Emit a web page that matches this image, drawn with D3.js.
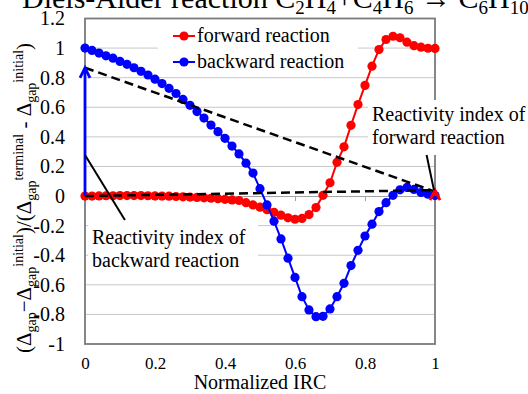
<!DOCTYPE html>
<meta charset="utf-8">
<style>
body { margin: 0; background: #fff; }
</style>
<body>
<script src="https://cdn.jsdelivr.net/npm/d3@7"></script>
<script>

// normalized IRC positions
var irc = [0.00,0.02,0.04,0.06,0.08,0.10,0.12,0.14,0.16,0.18,0.20,0.22,0.24,0.26,0.28,0.30,0.32,0.34,0.36,0.38,
           0.40,0.42,0.44,0.46,0.48,0.50,0.52,0.54,0.56,0.58,0.60,0.62,0.64,0.66,0.68,0.70,0.72,0.74,0.76,0.78,
           0.80,0.82,0.84,0.86,0.88,0.90,0.92,0.94,0.96,0.98,1.00];

// forward reaction
var forward = [0.000,0.000,0.001,0.002,0.002,0.003,0.003,0.003,0.003,0.002,0.001,0.000,-0.001,-0.003,-0.005,-0.007,-0.009,-0.012,-0.015,-0.018,
               -0.022,-0.026,-0.030,-0.045,-0.060,-0.075,-0.092,-0.110,-0.129,-0.147,-0.157,-0.151,-0.125,-0.078,0.005,0.090,0.228,0.333,0.478,0.618,
               0.748,0.878,0.990,1.058,1.080,1.070,1.040,1.016,1.006,0.999,0.998];

// backward reaction
var backward = [1.000,0.984,0.966,0.948,0.932,0.910,0.890,0.867,0.843,0.818,0.790,0.760,0.728,0.693,0.653,0.613,0.571,0.527,0.480,0.435,
                0.390,0.338,0.285,0.222,0.155,0.050,-0.060,-0.170,-0.290,-0.420,-0.550,-0.680,-0.770,-0.815,-0.813,-0.763,-0.680,-0.590,-0.470,-0.367,
                -0.270,-0.190,-0.105,-0.045,0.005,0.042,0.058,0.045,0.024,0.012,0.003];

var xTicks = [0, 0.2, 0.4, 0.6, 0.8, 1];
var yTicks = [-1, -0.8, -0.6, -0.4, -0.2, 0, 0.2, 0.4, 0.6, 0.8, 1, 1.2];

// reactivity index lines: [x, y] start and end
var backwardIndex = [[0, 0.867], [1, 0.03]];
var forwardIndex = [[0, 0], [1, 0.04]];

var width = 528, height = 394;
var font = "Liberation Serif";

var x = d3.scaleLinear().domain([0, 1]).range([85, 435]);
var y = d3.scaleLinear().domain([-1, 1.2]).range([344, 18.5]);

var svg = d3.select("body").append("svg")
    .attr("width", width)
    .attr("height", height);

// title (cut off at the top in the original)
var title = svg.append("text")
    .attr("x", 22)
    .attr("y", 8)
    .style("font-size", "30px")
    .attr("fill", "#000");
title.append("tspan").text("Diels-Alder reaction C");
title.append("tspan").attr("dy", 6).style("font-size", "19px").text("2");
title.append("tspan").attr("dy", -6).text("H");
title.append("tspan").attr("dy", 6).style("font-size", "19px").text("4");
title.append("tspan").attr("dy", -6).text("+C");
title.append("tspan").attr("dy", 6).style("font-size", "19px").text("4");
title.append("tspan").attr("dy", -6).text("H");
title.append("tspan").attr("dy", 6).style("font-size", "19px").text("6");
title.append("tspan").attr("dy", -6).text(" \u2192 C");
title.append("tspan").attr("dy", 6).style("font-size", "19px").text("6");
title.append("tspan").attr("dy", -6).text("H");
title.append("tspan").attr("dy", 6).style("font-size", "19px").text("10");

// horizontal gridlines
svg.append("g")
  .selectAll("line")
  .data(yTicks.filter(function(d) { return d > -1 && d < 1.2 && d !== 0; }))
  .enter().append("line")
    .attr("x1", x(0)).attr("x2", x(1))
    .attr("y1", function(d) { return y(d); })
    .attr("y2", function(d) { return y(d); })
    .attr("stroke", "#c8c8c8")
    .attr("stroke-width", 1);

// y axis labels
svg.append("g")
    .attr("transform", "translate(" + (x(0) - 17) + ",0)")
    .call(d3.axisLeft(y).tickValues(yTicks).tickSize(0)
      .tickFormat(function(d) { return String(+d.toFixed(1)); }))
    .call(function(g) { g.select(".domain").remove(); })
    .selectAll("text")
      .style("font-size", "20px")
      .attr("fill", "#000");

// x axis labels at the bottom
svg.append("g")
    .attr("transform", "translate(0," + (y(-1) + 10) + ")")
    .call(d3.axisBottom(x).tickValues(xTicks).tickSize(0)
      .tickFormat(function(d) { return String(+d.toFixed(1)); }))
    .call(function(g) { g.select(".domain").remove(); })
    .selectAll("text")
      .style("font-size", "17px")
      .attr("fill", "#000");

// horizontal axis line through zero, ticks pointing down
svg.append("g")
    .attr("transform", "translate(0," + y(0) + ")")
    .call(d3.axisBottom(x).tickValues(xTicks).tickSize(5).tickFormat(""))
    .call(function(g) {
      g.select(".domain").attr("stroke", "#a0a0a0").attr("stroke-width", 1);
      g.selectAll(".tick line").attr("stroke", "#a0a0a0");
    });

// plot border
svg.append("rect")
    .attr("x", x(0)).attr("y", y(1.2))
    .attr("width", x(1) - x(0)).attr("height", y(-1) - y(1.2))
    .attr("fill", "none")
    .attr("stroke", "#7a7a7a")
    .attr("stroke-width", 1.8);

// axis titles
svg.append("text")
    .attr("x", 260).attr("y", 389)
    .attr("text-anchor", "middle")
    .style("font-size", "20px")
    .text("Normalized IRC");

var yt = svg.append("text")
    .attr("transform", "translate(31,198) rotate(-90)")
    .attr("text-anchor", "middle")
    .style("font-size", "21px");
function sub(t) { yt.append("tspan").attr("dy", 5).style("font-size", "14px").text(t); }
function sup(t) { yt.append("tspan").attr("dy", -13).style("font-size", "14px").text(t); }
function main(t, dy) { yt.append("tspan").attr("dy", dy).text(t); }
main("(\u0394", 0); sub("gap"); main("\u2212\u0394", -5); sub("gap"); sup("initial");
main(")/(\u0394", 8); sub("gap"); sup("terminal");
main(" - \u0394", 8); sub("gap"); sup("initial"); main(")", 8);

// series
var series = [
  {name: "forward reaction", values: forward, color: "#ff0000"},
  {name: "backward reaction", values: backward, color: "#0000ff"}
];

var line = d3.line()
    .x(function(d) { return x(d[0]); })
    .y(function(d) { return y(d[1]); });

series.forEach(function(s) {
  var pts = irc.map(function(v, i) { return [v, s.values[i]]; });
  svg.append("path")
      .datum(pts)
      .attr("d", line)
      .attr("fill", "none")
      .attr("stroke", s.color)
      .attr("stroke-width", 2);
  svg.append("g").selectAll("circle")
      .data(pts)
      .enter().append("circle")
        .attr("cx", function(d) { return x(d[0]); })
        .attr("cy", function(d) { return y(d[1]); })
        .attr("r", 4.6)
        .attr("fill", s.color);
});

// dashed reactivity-index lines
[backwardIndex, forwardIndex].forEach(function(seg) {
  svg.append("path")
      .datum(seg)
      .attr("d", line)
      .attr("stroke", "#000")
      .attr("stroke-width", 2.5)
      .attr("stroke-dasharray", "9,5");
});

// arrows showing the index
function arrow(xv, y0, y1, color) {
  var g = svg.append("g").attr("stroke", color).attr("stroke-width", 2.8).attr("fill", "none");
  g.append("line").attr("x1", x(xv)).attr("x2", x(xv)).attr("y1", y(y0)).attr("y2", y(y1));
  g.append("path").attr("d", "M" + (x(xv) - 5) + "," + (y(y1) + 10) +
      "L" + x(xv) + "," + y(y1) + "L" + (x(xv) + 5) + "," + (y(y1) + 10));
}
arrow(0, 0, backwardIndex[0][1], "#0000ff");
arrow(1, 0, 0.04, "#ff0000");

// legend
var legend = svg.append("g");
legend.append("rect")
    .attr("x", 158).attr("y", 20).attr("width", 200).attr("height", 55)
    .attr("fill", "#fff");
series.forEach(function(s, i) {
  var ly = 36 + i * 26;
  legend.append("line")
      .attr("x1", 173).attr("x2", 195).attr("y1", ly).attr("y2", ly)
      .attr("stroke", s.color).attr("stroke-width", 2);
  legend.append("circle").attr("cx", 184).attr("cy", ly).attr("r", 4.6).attr("fill", s.color);
  legend.append("text")
      .attr("x", 197).attr("y", ly + 6)
      .style("font-size", "20px")
      .text(s.name);
});

// annotation boxes
function note(bx, by, bw, bh, tx, ty, lines) {
  svg.append("rect").attr("x", bx).attr("y", by).attr("width", bw).attr("height", bh).attr("fill", "#fff");
  var t = svg.append("text").style("font-size", "20px");
  lines.forEach(function(l, i) {
    t.append("tspan").attr("x", tx).attr("y", ty + i * 23).text(l);
  });
}
note(368, 100, 160, 55, 372, 121, ["Reactivity index of", "forward reaction"]);
note(88, 223, 170, 52, 92, 244, ["Reactivity index of", "backward reaction"]);

// pointer lines
svg.append("line")
    .attr("x1", x(0)).attr("y1", y(0.277)).attr("x2", x(0.114)).attr("y2", y(-0.162))
    .attr("stroke", "#000").attr("stroke-width", 2);
svg.append("line")
    .attr("x1", x(0.976)).attr("y1", y(0.277)).attr("x2", x(0.997)).attr("y2", y(0.04))
    .attr("stroke", "#000").attr("stroke-width", 2);

// serif font everywhere (Times-like, as in the original)
svg.selectAll("text").style("font-family", font);

</script>
</body>
